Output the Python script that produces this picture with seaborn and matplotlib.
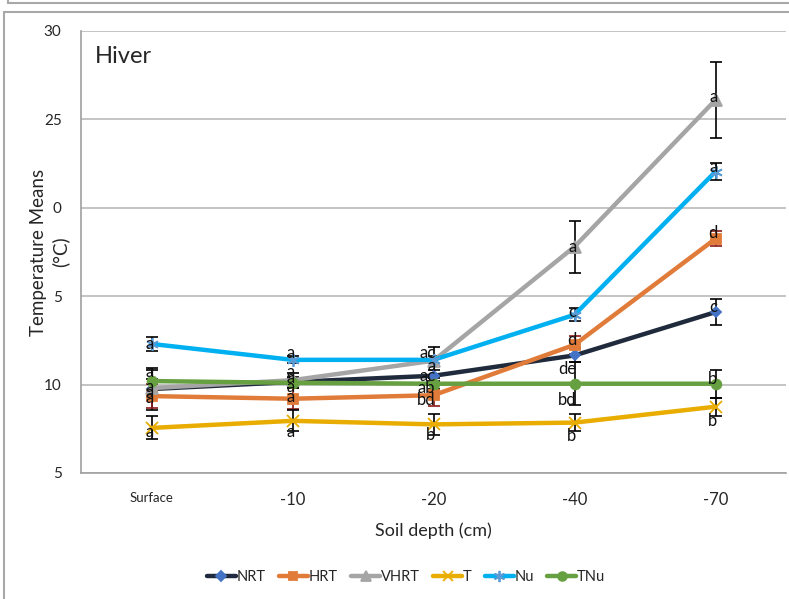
import matplotlib
matplotlib.use("Agg")
import matplotlib.pyplot as plt
import matplotlib.transforms as mtransforms
from matplotlib.lines import Line2D
import seaborn as sns
import numpy as np
import pandas as pd

# ---- data ----
depths = ["Surface", "-10", "-20", "-40", "-70"]
series_names = ["NRT", "HRT", "VHRT", "T", "Nu", "TNu"]

nrt = [9.75, 10.15, 10.5, 11.65, 14.1]
hrt = [9.35, 9.2, 9.4, 12.25, 18.25]
vhrt = [9.8, 10.25, 11.35, 17.8, 26.1]
t_ = [7.55, 7.95, 7.75, 7.85, 8.75]
nu = [12.3, 11.4, 11.4, 13.95, 22.05]
tnu = [10.2, 10.1, 10.05, 10.05, 10.05]

nrt_err = [1.2, 0.3, 0.3, 0.4, 0.75]
hrt_err = [0.7, 0.6, 0.6, 0.5, 0.43]
vhrt_err = [0.5, 0.4, 0.8, 1.47, 2.15]
t_err = [0.65, 0.6, 0.6, 0.5, 0.5]
nu_err = [0.4, 0.2, 0.2, 0.37, 0.5]
tnu_err = [0.6, 0.3, 0.3, 1.2, 0.8]

nrt_lab = ["a", "a", "ac", "de", "c"]
hrt_lab = ["a", "a", "bd", "d", "d"]
vhrt_lab = ["a", "a", "a", "a", "a"]
t_lab = ["a", "a", "b", "b", "b"]
nu_lab = ["a", "a", "ac", "c", "a"]
tnu_lab = ["a", "a", "ab", "bd", "b"]

y_ticks = [5, 10, 15, 20, 25, 30]
y_tick_labels = ["5", "10", "5", "0", "25", "30"]

values = {"NRT": nrt, "HRT": hrt, "VHRT": vhrt, "T": t_, "Nu": nu, "TNu": tnu}
errors = {"NRT": nrt_err, "HRT": hrt_err, "VHRT": vhrt_err, "T": t_err, "Nu": nu_err, "TNu": tnu_err}
letters = {"NRT": nrt_lab, "HRT": hrt_lab, "VHRT": vhrt_lab, "T": t_lab, "Nu": nu_lab, "TNu": tnu_lab}

# ---- styles ----
style = {
    "NRT":  dict(line="#1f2b3c", marker="D", mfc="#4472c4", mec="#4472c4", ms=5.5, err="#000000"),
    "HRT":  dict(line="#e07b39", marker="s", mfc="#e07b39", mec="#e07b39", ms=7, err="#8b1a1a"),
    "VHRT": dict(line="#a5a5a5", marker="^", mfc="#a5a5a5", mec="#a5a5a5", ms=8, err="#000000"),
    "T":    dict(line="#e8ad00", marker="x", mfc="#e8ad00", mec="#e8ad00", ms=8, err="#000000"),
    "Nu":   dict(line="#00b0f0", marker=(6, 2, 0), mfc="#5b9bd5", mec="#5b9bd5", ms=9, err="#000000"),
    "TNu":  dict(line="#66a040", marker="o", mfc="#66a040", mec="#66a040", ms=7, err="#000000"),
}

# vertical offsets of the letter labels (pixels, positive = up)
label_dy = {
    "NRT":  [-4, 4, 0, -14, 5],
    "HRT":  [-2, 2, -5, 5, 6],
    "VHRT": [1, 8, -5, 0, 3],
    "T":    [-4, -11, -11, -13, -14],
    "Nu":   [0, 7, 7, 3, 5],
    "TNu":  [9, -4, -4, -16, 5],
}

rows = []
for name in series_names:
    for i, d in enumerate(depths):
        rows.append({"series": name, "pos": i, "depth": d, "temp": values[name][i]})
df = pd.DataFrame(rows)

sns.set_theme(style="white")
plt.rcParams["font.family"] = ["Lato", "DejaVu Sans"]

fig = plt.figure(figsize=(7.89, 5.99), dpi=100)
ax = fig.add_axes([81 / 789, 1 - 473 / 599, 705 / 789, 442 / 599])

for y in y_ticks:
    ax.axhline(y, color="#b4b4b4", lw=1.1, zorder=0)

x = np.arange(len(depths))
for name in series_names:
    st = style[name]
    sub = df[df["series"] == name]
    ax.errorbar(sub["pos"], sub["temp"], yerr=errors[name], fmt="none",
                ecolor=st["err"], elinewidth=1.2, capsize=4, capthick=1.2, zorder=2)
    sns.lineplot(data=sub, x="pos", y="temp", ax=ax, color=st["line"], lw=3.2,
                 marker=st["marker"], markersize=st["ms"], markerfacecolor=st["mfc"],
                 markeredgecolor=st["mec"], markeredgewidth=1.3, errorbar=None,
                 legend=False, zorder=3)

for name in series_names:
    for i in range(len(depths)):
        tr = mtransforms.offset_copy(ax.transData, fig=fig, x=2, y=label_dy[name][i], units="dots")
        ax.text(x[i], values[name][i], letters[name][i], transform=tr, ha="right",
                va="center", fontsize=12, color="#111111", zorder=5)

ax.set_xlim(-0.5, len(depths) - 0.5)
ax.set_ylim(5, 30)
ax.set_yticks(y_ticks)
ax.set_yticklabels(y_tick_labels, fontsize=11)
ax.tick_params(axis="y", length=0, pad=14)

ax.set_xticks(x)
ax.set_xticklabels(depths)
ax.tick_params(axis="x", which="major", length=0, pad=14, labelsize=12)
ax.get_xticklabels()[0].set_fontsize(9.5)
ax.set_xticks(np.arange(0.5, len(depths), 1.0), minor=True)
ax.tick_params(axis="x", which="minor", direction="in", length=5, color="#a0a0a0", width=1)

for s in ["top", "right"]:
    ax.spines[s].set_visible(False)
for s in ["left", "bottom"]:
    ax.spines[s].set_color("#a0a0a0")
    ax.spines[s].set_linewidth(1.2)

ax.set_xlabel("Soil depth (cm)", fontsize=13, labelpad=10)
ax.set_ylabel("Temperature Means\n(°C)", fontsize=13.5, linespacing=1.35)
ax.yaxis.set_label_coords(-0.016, 0.5)
ax.text(0.02, 0.965, "Hiver", transform=ax.transAxes, fontsize=17, ha="left", va="top")

handles = []
for name in series_names:
    st = style[name]
    handles.append(Line2D([0], [0], color=st["line"], lw=3.2, marker=st["marker"],
                          markersize=st["ms"] * 0.9, markerfacecolor=st["mfc"],
                          markeredgecolor=st["mec"], markeredgewidth=1.3))
fig.legend(handles, series_names, loc="center", bbox_to_anchor=(406 / 789, 1 - 577 / 599),
           ncol=6, frameon=False, fontsize=10.5, handlelength=2.0, handletextpad=0.05,
           columnspacing=0.9)

# surrounding frame lines
fig.add_artist(Line2D([4 / 789, 4 / 789], [0, 1 - 12 / 599], transform=fig.transFigure,
                      color="#a8a8a8", lw=1.5))
fig.add_artist(Line2D([4 / 789, 1], [1 - 12 / 599, 1 - 12 / 599], transform=fig.transFigure,
                      color="#a8a8a8", lw=1.5))
fig.add_artist(Line2D([8 / 789, 1], [1 - 3 / 599, 1 - 3 / 599], transform=fig.transFigure,
                      color="#a8a8a8", lw=1.5))
fig.add_artist(Line2D([8 / 789, 8 / 789], [1 - 3 / 599, 1], transform=fig.transFigure,
                      color="#a8a8a8", lw=1.5))

fig.savefig("out.png", dpi=100)
